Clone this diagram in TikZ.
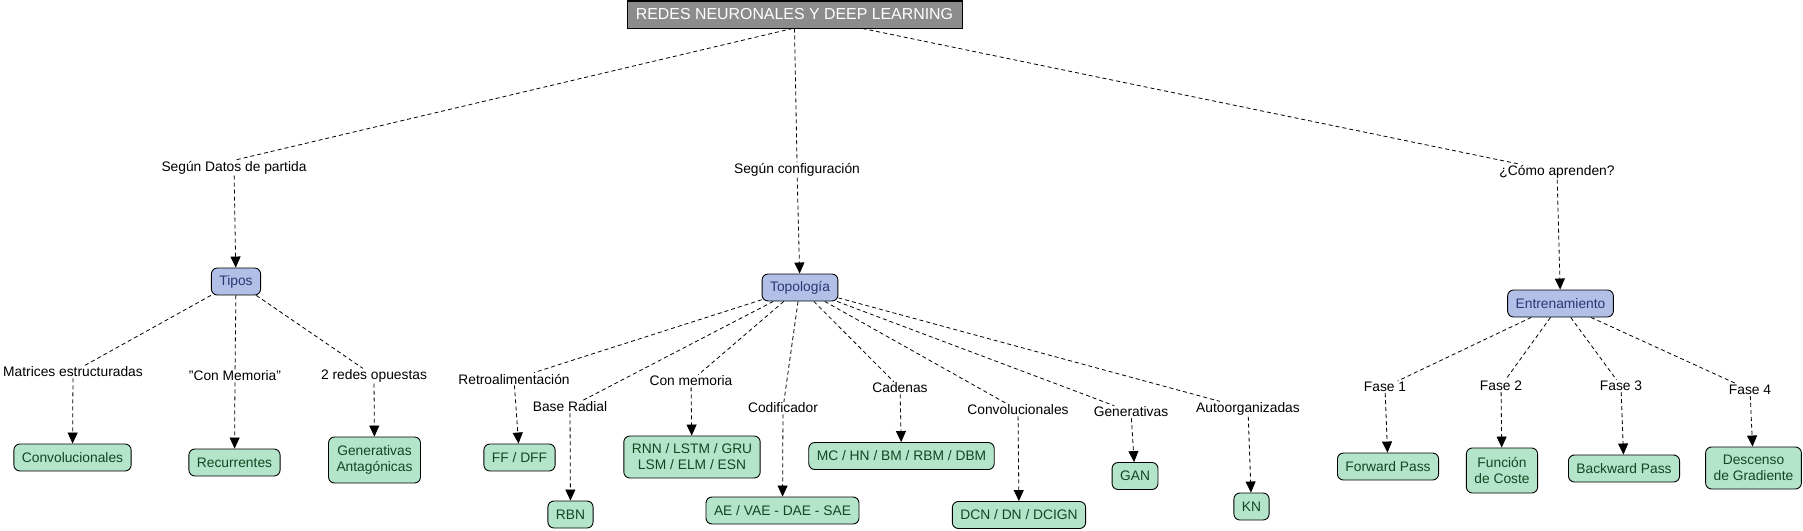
\documentclass[tikz,border=0pt]{standalone}
\usepackage{fontspec}
\setmainfont{Liberation Sans}
\usetikzlibrary{arrows.meta,calc}
\definecolor{boxgreen}{RGB}{180,229,202}
\definecolor{txtgreen}{RGB}{20,70,35}
\definecolor{boxblue}{RGB}{178,192,232}
\definecolor{txtblue}{RGB}{40,55,115}
\definecolor{titlegray}{RGB}{140,140,140}
\begin{document}
\begin{tikzpicture}[x=1pt,y=-1pt,
 every node/.style={font=\fontsize{13.8}{16}\selectfont},
 lbl/.style={inner sep=1pt, align=center},
 leaf/.style={draw=black, line width=0.9pt, fill=boxgreen, text=txtgreen, rounded corners=6pt, inner xsep=8pt, inner ysep=5pt, minimum height=27pt, align=center},
 mid/.style={leaf, fill=boxblue, text=txtblue},
 conn/.style={draw=black, line width=0.8pt, dash pattern=on 4pt off 3pt},
 arr/.style={conn, -{Triangle[width=10pt,length=11pt]}},
]
\useasboundingbox[fill=white] (0,0) rectangle (1803,530);

% title
\node[draw=black, line width=1pt, fill=titlegray, text=white, minimum width=335pt, minimum height=27pt, inner sep=0pt, font=\fontsize{15.9}{18}\selectfont] (title) at (794.5,14.5) {REDES NEURONALES Y DEEP LEARNING};

% first level labels
\node[lbl] (l1) at (234,168) {Según Datos de partida};
\node[lbl] (l2) at (797,170) {Según configuración};
\node[lbl] (l3) at (1557,172) {¿Cómo aprenden?};

% second level concepts
\node[mid] (tipos) at (236,281.5) {Tipos};
\node[mid] (topo) at (800,287.5) {Topología};
\node[mid] (entr) at (1560.5,303.5) {Entrenamiento};

% Tipos branch
\node[lbl] (m1) at (73,372) {Matrices estructuradas};
\node[lbl] (m2) at (235,376) {"Con Memoria"};
\node[lbl] (m3) at (374,376) {2 redes opuestas};
\node[leaf] (conv) at (72.5,457.5) {Convolucionales};
\node[leaf] (recur) at (234.5,462.5) {Recurrentes};
\node[leaf, minimum height=46pt] (genant) at (374.5,460) {Generativas\\Antagónicas};

% Topologia branch
\node[lbl] (retro) at (514,379) {Retroalimentación};
\node[lbl] (baser) at (570,407) {Base Radial};
\node[lbl] (conmem) at (691,381) {Con memoria};
\node[lbl] (codif) at (783,408) {Codificador};
\node[lbl] (caden) at (900,388) {Cadenas};
\node[lbl] (convl) at (1018,410) {Convolucionales};
\node[lbl] (gener) at (1131,412) {Generativas};
\node[lbl] (autoo) at (1248,409) {Autoorganizadas};
\node[leaf] (ff) at (519.5,457.5) {FF / DFF};
\node[leaf] (rbn) at (570.5,514.5) {RBN};
\node[leaf, minimum height=42pt] (rnn) at (692,457) {RNN / LSTM / GRU\\LSM / ELM / ESN};
\node[leaf] (ae) at (782.5,510.5) {AE / VAE - DAE - SAE};
\node[leaf] (mc) at (901.5,456) {MC / HN / BM / RBM / DBM};
\node[leaf] (dcn) at (1019,515) {DCN / DN / DCIGN};
\node[leaf] (gan) at (1135,476) {GAN};
\node[leaf] (kn) at (1251.5,506.5) {KN};

% Entrenamiento branch
\node[lbl] (f1) at (1385,387) {Fase 1};
\node[lbl] (f2) at (1501,386) {Fase 2};
\node[lbl] (f3) at (1621,386) {Fase 3};
\node[lbl] (f4) at (1750,390) {Fase 4};
\node[leaf] (fwd) at (1388,466.5) {Forward Pass};
\node[leaf, minimum height=45pt] (coste) at (1502,470.5) {Función\\de Coste};
\node[leaf] (bwd) at (1624,468.5) {Backward Pass};
\node[leaf, minimum height=42pt] (desc) at (1753.5,468) {Descenso\\de Gradiente};

% title connectors
\draw[conn] ($(title.south)+(-2,0)$) -- (l1.north);
\draw[conn] (title.south) -- (l2.north);
\draw[conn] ($(title.south)+(68,0)$) -- ($(l3.north west)+(22,0)$);
\draw[arr] (l1) -- (tipos);
\draw[arr] (l2) -- (topo);
\draw[arr] (l3) -- (entr);

% Tipos connectors
\foreach \l/\b in {m1/conv, m2/recur, m3/genant}{
  \draw[conn] (tipos) -- (\l);
  \draw[arr] (\l) -- (\b);
}
% Topologia connectors
\foreach \l/\b in {retro/ff, baser/rbn, conmem/rnn, codif/ae, caden/mc, convl/dcn, gener/gan, autoo/kn}{
  \draw[conn] (topo) -- (\l);
  \draw[arr] (\l) -- (\b);
}
% Entrenamiento connectors
\foreach \l/\b in {f1/fwd, f2/coste, f3/bwd, f4/desc}{
  \draw[conn] (entr) -- (\l);
  \draw[arr] (\l) -- (\b);
}
\end{tikzpicture}
\end{document}
